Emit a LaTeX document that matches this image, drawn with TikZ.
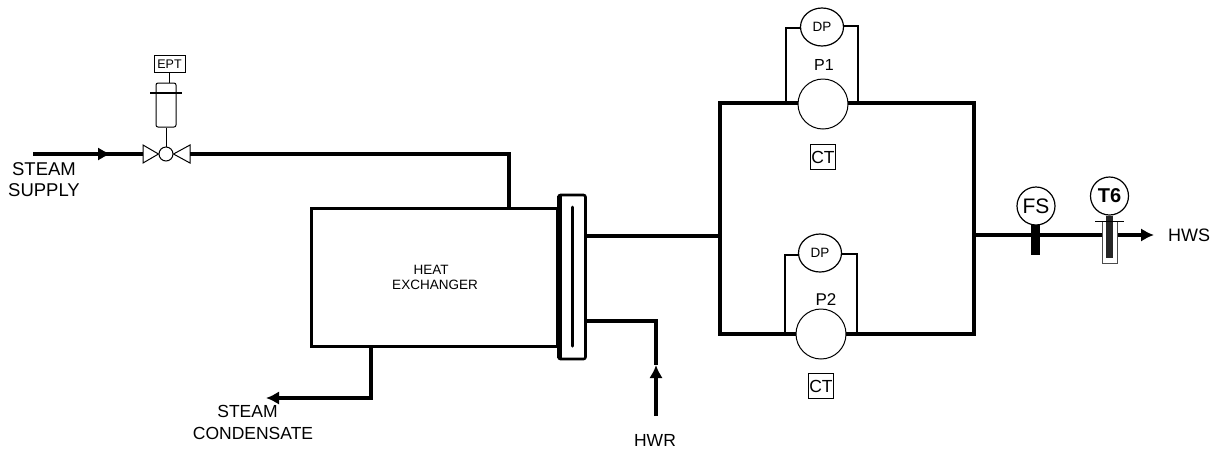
\documentclass[tikz,border=0pt]{standalone}
\usepackage{fontspec}
\setmainfont{Liberation Sans}
\usetikzlibrary{positioning,arrows.meta,calc,shapes.geometric}

\begin{document}
\begin{tikzpicture}[x=1pt,y=-1pt,
  pipe/.style={line width=3.2pt},
  thin pipe/.style={line width=1.5pt},
  flow/.style={pipe,-{Latex[length=13pt,width=13.5pt]}},
  lbl/.style={inner sep=0pt,align=center,font=\fontsize{17.5}{22}\selectfont},
  small lbl/.style={inner sep=0pt,align=center,font=\fontsize{13.5}{15}\selectfont},
  pump/.style={circle,draw,line width=1pt,fill=white,minimum size=50pt,inner sep=0pt},
  gauge/.style={ellipse,draw,line width=1.2pt,fill=white,minimum width=43pt,minimum height=38pt,inner sep=0pt},
  instr/.style={circle,draw,line width=1.2pt,fill=white,minimum size=38pt,inner sep=0pt},
  tag/.style={rectangle,draw,line width=.8pt,minimum size=25pt,inner sep=0pt,font=\fontsize{17.5}{18}\selectfont}]
\useasboundingbox (0,0) rectangle (1222,451);

%%%%%%%%%%%%%%%%%%%%%% STEAM SUPPLY
\coordinate (SS) at (33,154);
\coordinate (SA) at (111,154);
\coordinate (SC) at (509,154);
\node[circle,draw,line width=1pt,fill=white,minimum size=14pt,inner sep=0pt] (V) at (166,154) {};
\coordinate (VL) at (143,154);
\coordinate (VR) at (190,154);
\draw[pipe] (SS) -- (VL);
\draw[flow] (SS) -- (SA);
\draw[line width=1pt] (V.west) -- ($(VL)+(0,9)$) -- ($(VL)+(0,-9)$) -- cycle;
\draw[line width=1pt] (V.east) -- ($(VR)+(0,9)$) -- ($(VR)+(0,-9)$) -- cycle;
\node[lbl,font=\fontsize{18.5}{21}\selectfont] (SSL) at (44,179.5) {STEAM\\SUPPLY};

\node[rectangle,draw,rounded corners=2pt,line width=1pt,minimum width=20pt,minimum height=44pt,inner sep=0pt] (ACT) at (166,105) {};
\node[rectangle,draw,line width=1pt,minimum width=31pt,minimum height=17pt,inner sep=0pt,font=\fontsize{12.5}{14}\selectfont] (EPT) at (169.5,64) {EPT};
\coordinate (BL) at (150,93);
\coordinate (BR) at (182,93);
\draw[line width=1.2pt] (BL) -- (BR);
\draw[line width=1pt] (ACT.north -| EPT.south) -- (EPT.south);
\draw[line width=1pt] (ACT.south) -- (V.north);

%%%%%%%%%%%%%%%%%%%%%% HEAT EXCHANGER
\node[rectangle,draw,line width=3pt,minimum width=246pt,minimum height=138pt,inner sep=0pt] (HX) at (434,277) {};
\node[small lbl] (HXL) at (435,277.5) {HEAT\hspace*{8pt}\\\hspace*{0pt}EXCHANGER};
\node[rectangle,draw,rounded corners=2pt,line width=2.6pt,fill=white,minimum width=27pt,minimum height=164pt,inner sep=0pt,outer sep=0pt] (HEAD) at (572,277) {};
\coordinate (TT) at (559.5,196);
\coordinate (TB) at (559.5,358);
\draw[line width=5pt] (TT) -- (TB);
\coordinate (BT) at (572.5,207);
\coordinate (BB) at (572.5,346);
\draw[line width=3pt,line cap=round] (BT) -- (BB);
\coordinate (SI) at (509,208);
\draw[pipe] (VR) -- (SC) -- (SI);

\coordinate (CO) at (371,346);
\coordinate (CC) at (371,398);
\coordinate (CE) at (266,398);
\draw[flow] (CO) -- (CC) -- (CE);
\node[lbl] (CL) at (253,422) {STEAM\hspace*{11pt}\\CONDENSATE};

\coordinate (RO) at (586,321);
\coordinate (RC) at (656,321);
\coordinate (RA) at (656,365);
\coordinate (RS) at (656,416);
\draw[pipe] (RO) -- (RC) -- (RA);
\draw[flow] (RS) -- (RA);
\node[lbl] (RL) at (655,440) {HWR};

%%%%%%%%%%%%%%%%%%%%%% PUMP LOOP
\node[rectangle,draw,line width=3.2pt,minimum width=254pt,minimum height=231pt,inner sep=0pt,outer sep=0pt] (LOOP) at (847,218.5) {};
\coordinate (OUT) at (720,236);
\draw[pipe] (HEAD.east |- OUT) -- (OUT);

\coordinate (A1) at (786,103);
\coordinate (B1) at (858,103);
\coordinate (A2) at (785,333);
\coordinate (B2) at (857,333);
\node[gauge,small lbl] (DP1) at (822,27) {DP};
\node[gauge,small lbl] (DP2) at (820,253) {DP};
\draw[thin pipe] (A1) |- ($(DP1.west)+(0,1)$);
\draw[thin pipe] (B1) |- ($(DP1.east)+(0,-1)$);
\draw[thin pipe] (A2) |- ($(DP2.west)+(0,2)$);
\draw[thin pipe] (B2) |- ($(DP2.east)+(0,1)$);

\node[pump] (P1) at (823,104) {};
\node[pump] (P2) at (821,334) {};
\node[lbl,font=\fontsize{16}{20}\selectfont] (P1L) at (824,65) {P1};
\node[lbl,font=\fontsize{17}{20}\selectfont] (P2L) at (826,300) {P2};
\node[tag] (CT1) at (823,157) {CT};
\node[tag] (CT2) at (821,386) {CT};

%%%%%%%%%%%%%%%%%%%%%% HWS
\coordinate (HO) at (974,235);
\coordinate (HE) at (1154,235);
\draw[flow] (HO) -- (HE);
\node[lbl,font=\fontsize{18}{20}\selectfont,right=14pt of HE] (HWS) {HWS};

\node[rectangle,fill=black,minimum width=9pt,minimum height=32pt,inner sep=0pt] (FSB) at (1035.5,239) {};
\node[instr,font=\fontsize{21}{24}\selectfont] (FS) at (1036,206) {FS};
\node[rectangle,draw=black!70,fill=white,line width=1pt,minimum width=15pt,minimum height=42pt,inner sep=0pt] (WELL) at (1109.5,242) {};
\node[rectangle,fill=black!85,minimum width=7pt,minimum height=42pt,inner sep=0pt] (T6B) at (1109.5,237) {};
\node[instr,font=\fontsize{20}{23}\selectfont\bfseries] (T6) at (1109.5,196) {T6};
\coordinate (TL) at (1095,221);
\coordinate (TR) at (1124,221);
\draw[line width=.8pt] (TL) -- (TR);
\end{tikzpicture}
\end{document}
